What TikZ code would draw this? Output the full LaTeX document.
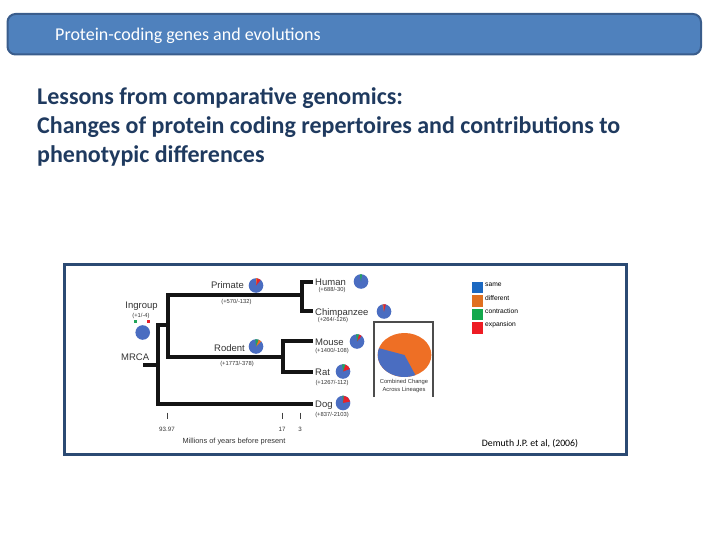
\documentclass[tikz,border=0pt]{standalone}
\usepackage{fontspec}
\setmainfont{Carlito}
\newfontfamily\figfont{Liberation Sans}
\usetikzlibrary{calc}
\definecolor{barfill}{HTML}{4F81BD}
\definecolor{barline}{HTML}{3A5D8C}
\definecolor{headc}{HTML}{1F3A5F}
\definecolor{framec}{HTML}{2B4A73}
\definecolor{pieblue}{HTML}{4A6DC1}
\definecolor{pieorange}{HTML}{EE6F25}
\definecolor{piegreen}{HTML}{22A55A}
\definecolor{piered}{HTML}{E8202A}
\definecolor{legblue}{HTML}{1B68C1}
\definecolor{legorange}{HTML}{E07020}
\definecolor{leggreen}{HTML}{13A84C}
\definecolor{legred}{HTML}{EE1C24}
\definecolor{figtext}{HTML}{333333}
\newcommand\smallpie[2]{%
  \fill[pieblue] (#1) circle[radius=7.3pt];
  \foreach \pa/\pb/\pc in {#2} {\fill[\pc] (#1) -- ++(\pa:7.3pt) arc[start angle=\pa, end angle=\pb, radius=7.3pt] -- cycle;}
}
\tikzset{
  branch/.style={line width=4pt, color=black!92, line cap=butt, line join=miter},
  taxon/.style={font=\figfont\fontsize{9.5}{10}\selectfont, text=figtext, inner sep=0pt},
  sublab/.style={font=\figfont\fontsize{5.8}{6}\selectfont, text=figtext, inner sep=0pt},
  axlab/.style={font=\figfont\fontsize{6.2}{7}\selectfont, text=figtext, inner sep=0pt},
  leglab/.style={font=\figfont\fontsize{6.7}{7}\selectfont, text=black, inner sep=0pt, anchor=west},
  legbox/.style={minimum width=11pt, minimum height=11.5pt, inner sep=0pt},
  headline/.style={font=\bfseries\fontsize{24}{29}\selectfont, text=headc, inner sep=0pt, anchor=base west},
}
\begin{document}
\begin{tikzpicture}[x=1pt, y=-1pt]
\path[use as bounding box] (0,0) rectangle (720,540);
% title bar
\draw[rounded corners=8pt, fill=barfill, draw=barline, line width=2pt] (7.5,14) rectangle (701,54.5);
\node[font=\fontsize{18}{21}\selectfont, text=white, inner sep=0pt, anchor=base west] (title) at (55,41) {Protein-coding genes and evolutions};
% heading
\node[headline] (h1) at (37,104.5) {Lessons from comparative genomics:};
\node[headline] (h2) at (37,133.5) {Changes of protein coding repertoires and contributions to};
\node[headline] (h3) at (37,162.5) {phenotypic differences};
% figure frame
\draw[framec, line width=3pt] (64.5,264.5) rectangle (626.5,454.5);
% tree coordinates
\coordinate (mrcaL) at (143,364.5);
\coordinate (mrcaR) at (158,364.5);
\coordinate (vtop) at (158,325);
\coordinate (vbot) at (158,404);
\coordinate (igstub) at (167.5,325);
\coordinate (igtop) at (167.5,295);
\coordinate (igbot) at (167.5,356.5);
\coordinate (primR) at (302,295);
\coordinate (hcT) at (302,282);
\coordinate (hcB) at (302,311);
\coordinate (humanE) at (313,282);
\coordinate (chimpE) at (313,311);
\coordinate (rodR) at (283,356.5);
\coordinate (mrT) at (283,341);
\coordinate (mrB) at (283,372);
\coordinate (mouseE) at (313,341);
\coordinate (ratE) at (313,372);
\coordinate (dogE) at (313,404);
% branches
\draw[branch] (mrcaL) -- (mrcaR);
\draw[branch] (dogE) -- (vbot) -- (vtop) -- (igstub);
\draw[branch] (primR) -- (igtop) -- (igbot) -- (rodR);
\draw[branch] (humanE) -- (hcT) -- (hcB) -- (chimpE);
\draw[branch] (mouseE) -- (mrT) -- (mrB) -- (ratE);
% labels
\node[taxon, anchor=base east] (primate) at (244,288.5) {Primate};
\node[sublab] (primates) at (236.5,301.5) {(+570/-132)};
\node[taxon, anchor=base] (ingroup) at (141.5,308) {Ingroup};
\node[sublab] (ingroups) at (141,315.5) {(+1/-4)};
\fill[piegreen] (133.5,320) rectangle (137,322.5);
\fill[piered] (146.5,320) rectangle (149.5,322.5);
\node[taxon, anchor=base east] (rodent) at (245,351.5) {Rodent};
\node[sublab] (rodents) at (237,363.5) {(+1773/-378)};
\node[taxon, anchor=base west] (mrca) at (121,360.5) {MRCA};
\node[taxon, anchor=base west] (human) at (315,285) {Human};
\node[sublab] (humans) at (332,289.5) {(+688/-30)};
\node[taxon, anchor=base west] (chimp) at (315,315) {Chimpanzee};
\node[sublab] (chimps) at (333,320) {(+264/-126)};
\node[taxon, anchor=base west] (mouse) at (315,345.5) {Mouse};
\node[sublab] (mouses) at (332,351) {(+1400/-108)};
\node[taxon, anchor=base west] (rat) at (315,375.5) {Rat};
\node[sublab] (rats) at (332,382.5) {(+1267/-112)};
\node[taxon, anchor=base west] (dog) at (315,407.5) {Dog};
\node[sublab] (dogs) at (332,414.5) {(+837/-2103)};
% pies
\coordinate (pprim) at (256,285.5);
\coordinate (ping) at (142.7,332.5);
\coordinate (prod) at (256,346.5);
\coordinate (phum) at (361,281.5);
\coordinate (pchi) at (384,311.5);
\coordinate (pmou) at (357,341.5);
\coordinate (prat) at (343,371.5);
\coordinate (pdog) at (343,403);
\smallpie{pprim}{50/80/piered, 80/90/pieorange}
\fill[pieblue] (ping) circle[radius=7.3pt];
\smallpie{prod}{45/70/pieorange, 70/95/piegreen}
\smallpie{phum}{82/100/piegreen}
\smallpie{pchi}{75/95/piered, 95/102/pieorange}
\smallpie{pmou}{50/75/piered, 75/97/piegreen}
\smallpie{prat}{20/72/piered, 72/97/piegreen}
\smallpie{pdog}{12/85/piered, 85/95/piegreen}
% combined box
\draw[black!70, line width=1.2pt] (374,397) -- (374,322) -- (433,322) -- (433,397);
\begin{scope}[shift={(404.5,355)}, xscale=1.22]
\fill[pieorange] (0,0) circle[radius=22pt];
\fill[pieblue] (0,0) -- (162:22pt) arc[start angle=162, end angle=294, radius=22pt] -- cycle;
\end{scope}
\node[sublab] (comb1) at (404,381.5) {Combined Change};
\node[sublab] (comb2) at (404,389.5) {Across Lineages};
% axis
\draw[black!75, line width=0.8pt] (167,412.5) -- (167,418.5);
\draw[black!75, line width=0.8pt] (282,412.5) -- (282,418.5);
\draw[black!75, line width=0.8pt] (300,412.5) -- (300,418.5);
\node[axlab] (t1) at (167,429) {93.97};
\node[axlab] (t2) at (282,429) {17};
\node[axlab] (t3) at (300,429) {3};
\node[font=\figfont\fontsize{7.4}{8}\selectfont, text=figtext, inner sep=0pt] (axt) at (234,441.5) {Millions of years before present};
% legend
\node[legbox, fill=legblue] (lb1) at (477.5,287.5) {};
\node[legbox, fill=legorange] (lb2) at (477.5,301) {};
\node[legbox, fill=leggreen] (lb3) at (477.5,314.5) {};
\node[legbox, fill=legred] (lb4) at (477.5,328) {};
\node[leglab] (ll1) at (485,285) {same};
\node[leglab] (ll2) at (485,298) {different};
\node[leglab] (ll3) at (485,311.5) {contraction};
\node[leglab] (ll4) at (485,324.5) {expansion};
% citation
\node[font=\fontsize{9.8}{11}\selectfont, text=black, inner sep=0pt] (cite) at (530,443.5) {Demuth J.P. et al, (2006)};
\end{tikzpicture}
\end{document}
